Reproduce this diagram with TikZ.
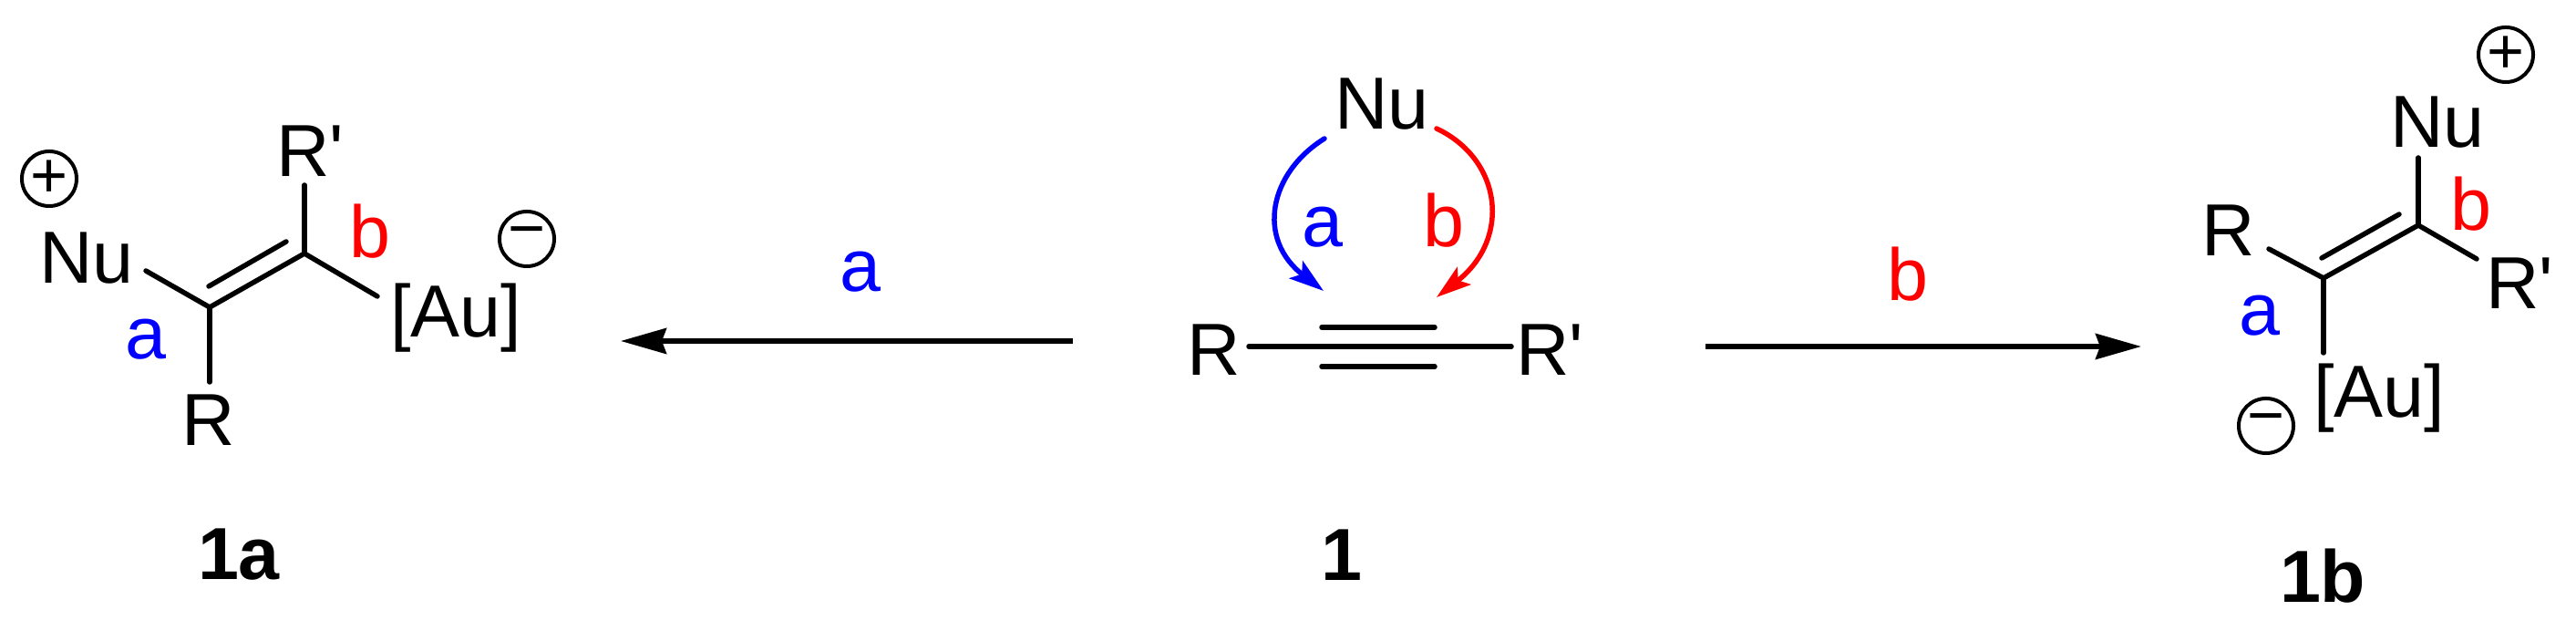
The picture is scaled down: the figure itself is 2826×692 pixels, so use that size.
\documentclass[tikz,border=0pt]{standalone}
\usepackage{fontspec}
\setmainfont{Liberation Sans}[Ligatures=TeXOff]
\usetikzlibrary{arrows.meta,positioning}

\begin{document}
\begin{tikzpicture}[x=0.01cm,y=-0.01cm,
        atom/.style={inner sep=0pt,outer sep=0pt,anchor=base west,font=\fontsize{23}{23}\selectfont},
        lbla/.style={atom,text=blue},
        lblb/.style={atom,text=red},
        cmpd/.style={atom,font=\fontsize{23}{23}\selectfont\bfseries},
        charge/.style={circle,draw,line width=0.04cm,minimum size=0.6cm,inner sep=0pt,outer sep=0pt,font=\fontsize{20}{20}\selectfont},
        bond/.style={line width=0.055cm,line cap=round},
        react/.style={line width=0.055cm,-{Stealth[length=0.5cm,width=0.28cm,inset=0.05cm]}},
        curlya/.style={line width=0.055cm,line cap=round,blue,-{Stealth[length=0.38cm,width=0.24cm,inset=0.08cm]}},
        curlyb/.style={line width=0.055cm,line cap=round,red,-{Stealth[length=0.38cm,width=0.24cm,inset=0.08cm]}}]
    \useasboundingbox (0,0) rectangle (2826,692);

    \node[atom] (nuL) at (43,311) {Nu};
    \node[atom] (rpL) at (303,194) {R'};
    \node[atom] (rL) at (199,489) {R};
    \node[atom] (auL) at (428,370) {[Au]};
    \node[charge] (plusL) at (54,196) {+};
    \node[charge] (minusL) at (578,262) {−};
    \node[lbla] (aL) at (137,394) {a};
    \node[lblb] (bL) at (383,283) {b};
    \node[cmpd] (nameL) at (217,636) {1a};

    \coordinate (c1L) at (230,337);
    \coordinate (c2L) at (334,278);
    \coordinate (d1L) at (229,314);
    \coordinate (d2L) at (314,265);
    \coordinate (endnuL) at (160,297);
    \coordinate (endrpL) at (334,203);
    \coordinate (endrL) at (230,419);
    \coordinate (endauL) at (414,325);
    \draw[bond] (endnuL) -- (c1L) -- (c2L) -- (endauL);
    \draw[bond] (c1L) -- (endrL);
    \draw[bond] (c2L) -- (endrpL);
    \draw[bond] (d1L) -- (d2L);

    \node[atom] (nuM) at (1464,142) {Nu};
    \node[atom] (rM) at (1302,412) {R};
    \node[atom] (rpM) at (1663,412) {R'};
    \node[lbla] (aM) at (1428,271) {a};
    \node[lblb] (bM) at (1561,271) {b};
    \node[cmpd] (nameM) at (1449,637) {1};

    \coordinate (t1M) at (1370,380);
    \coordinate (t2M) at (1658,380);
    \coordinate (u1M) at (1450,359);
    \coordinate (u2M) at (1574,359);
    \coordinate (v1M) at (1450,402);
    \coordinate (v2M) at (1574,402);
    \draw[bond] (t1M) -- (t2M);
    \draw[bond] (u1M) -- (u2M);
    \draw[bond] (v1M) -- (v2M);

    \coordinate (sa) at (1453,152);
    \coordinate (ea) at (1452,319);
    \coordinate (sb) at (1576,141);
    \coordinate (eb) at (1576,326);
    \draw[curlya] (sa) .. controls (1392,190) and (1378,262) .. (ea);
    \draw[curlyb] (sb) .. controls (1648,175) and (1658,262) .. (eb);

    \coordinate (arrowLs) at (1177,374);
    \coordinate (arrowLe) at (681,374);
    \coordinate (arrowRs) at (1871,380);
    \coordinate (arrowRe) at (2349,380);
    \draw[react] (arrowLs) -- (arrowLe);
    \draw[react] (arrowRs) -- (arrowRe);
    \node[lbla] (aArrow) at (921,320) {a};
    \node[lblb] (bArrow) at (2070,330) {b};

    \node[atom] (nuR) at (2622,162) {Nu};
    \node[atom] (rR) at (2415,281) {R};
    \node[atom] (rpR) at (2727,339) {R'};
    \node[atom] (auR) at (2538,458) {[Au]};
    \node[charge] (plusR) at (2749,60) {+};
    \node[charge] (minusR) at (2486,467) {−};
    \node[lbla] (aR) at (2456,368) {a};
    \node[lblb] (bR) at (2688,253) {b};
    \node[cmpd] (nameR) at (2501,661) {1b};

    \coordinate (c1R) at (2549,305);
    \coordinate (c2R) at (2653,247);
    \coordinate (d1R) at (2547,283);
    \coordinate (d2R) at (2632,235);
    \coordinate (endnuR) at (2653,173);
    \coordinate (endrpR) at (2717,284);
    \coordinate (endrR) at (2489,273);
    \coordinate (endauR) at (2549,387);
    \draw[bond] (endrR) -- (c1R) -- (c2R) -- (endrpR);
    \draw[bond] (c1R) -- (endauR);
    \draw[bond] (c2R) -- (endnuR);
    \draw[bond] (d1R) -- (d2R);
\end{tikzpicture}
\end{document}
